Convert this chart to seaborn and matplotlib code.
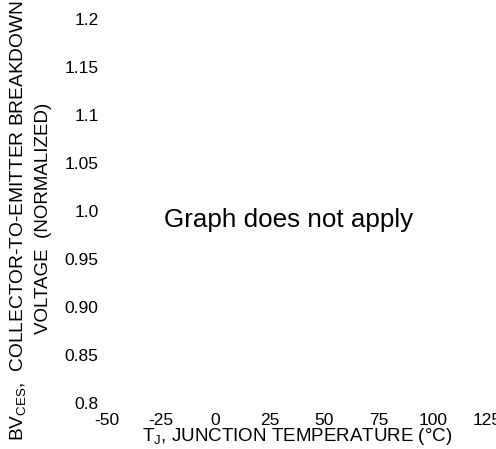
import matplotlib
matplotlib.use("Agg")
import matplotlib.pyplot as plt
import seaborn as sns
import pandas as pd

# Data / labels
x_ticks = [-50, -25, 0, 25, 50, 75, 100, 125]
y_ticks = [0.8, 0.85, 0.90, 0.95, 1.0, 1.05, 1.1, 1.15, 1.2]
y_tick_labels = ["0.8", "0.85", "0.90", "0.95", "1.0", "1.05", "1.1", "1.15", "1.2"]
x_label = r"T$_{\mathrm{J}}$, JUNCTION TEMPERATURE (°C)"
y_label_line1 = r"BV$_{\mathrm{CES}}$,  COLLECTOR-TO-EMITTER BREAKDOWN"
y_label_line2 = "VOLTAGE  (NORMALIZED)"
note = "Graph does not apply"

sns.set_theme(style="white")
plt.rcParams["font.family"] = ["Liberation Sans", "DejaVu Sans"]
plt.rcParams["mathtext.fontset"] = "custom"
plt.rcParams["mathtext.rm"] = "Liberation Sans"
plt.rcParams["mathtext.it"] = "Liberation Sans:italic"
plt.rcParams["mathtext.bf"] = "Liberation Sans:bold"

fig = plt.figure(figsize=(4.96, 4.49), dpi=100)
ax = fig.add_axes([107/496, 46/449, 380/496, 384/449])

empty = pd.DataFrame({"x": pd.Series([], dtype=float), "y": pd.Series([], dtype=float)})
sns.lineplot(data=empty, x="x", y="y", ax=ax)

ax.set_xlim(-50, 125)
ax.set_ylim(0.8, 1.2)
ax.set_xticks(x_ticks)
ax.set_xticklabels([str(v) for v in x_ticks])
ax.set_yticks(y_ticks)
ax.set_yticklabels(y_tick_labels)
ax.tick_params(axis="both", length=0, labelsize=12.5, colors="black")
ax.tick_params(axis="x", pad=7)
ax.tick_params(axis="y", pad=6)
sns.despine(ax=ax, left=True, bottom=True)
ax.set_xlabel(x_label, fontsize=13.5, labelpad=-1, color="black")
ax.set_ylabel("")
ax.grid(False)

fig.text(18/496, 1 - 221/449, y_label_line1, rotation=90, ha="center", va="center",
         fontsize=13.8, color="black")
fig.text(44/496, 1 - 218/449, y_label_line2, rotation=90, ha="center", va="center",
         fontsize=13.5, color="black")

ax.text(33.8, 0.983, note, ha="center", va="baseline", fontsize=18.7, color="black")

fig.savefig("out.png", dpi=100)
